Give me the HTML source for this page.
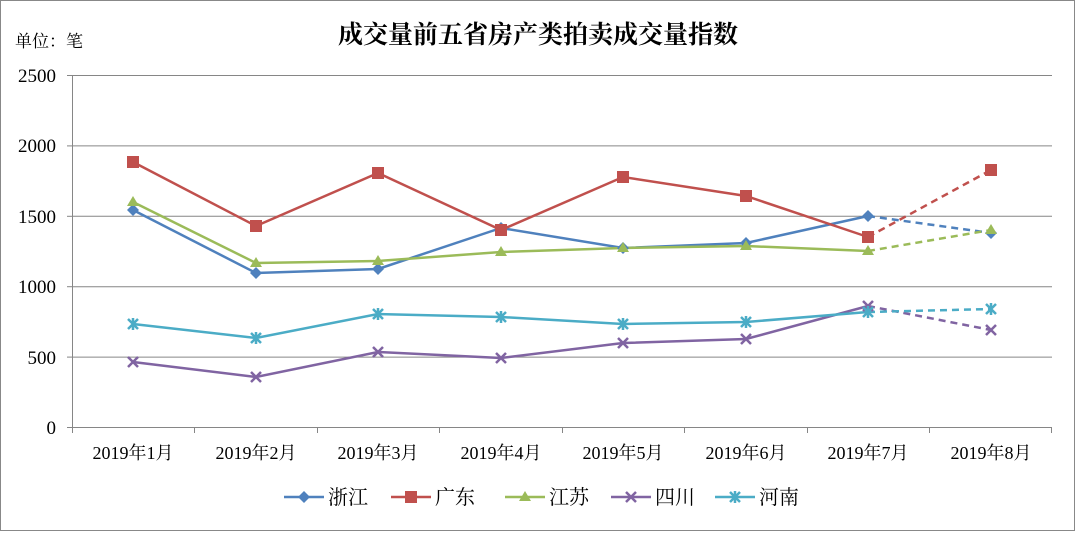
<!DOCTYPE html>
<html><head><meta charset="utf-8"><style>
body{margin:0;background:#fff}
svg text{font-family:"Liberation Serif","Noto Serif CJK SC","Noto Sans CJK SC",serif;fill:#000}
</style></head><body>
<svg width="1075" height="531" viewBox="0 0 1075 531" xmlns="http://www.w3.org/2000/svg">
<rect x="0.5" y="0.5" width="1074" height="530" fill="#fff" stroke="#888"/>
<text x="538" y="43" font-size="25" font-weight="bold" text-anchor="middle">成交量前五省房产类拍卖成交量指数</text>
<text x="15" y="47" font-size="17">单位：笔</text>
<g stroke="#868686" stroke-width="1">
<line x1="72" y1="75.5" x2="1052" y2="75.5"/>
<line x1="72" y1="145.9" x2="1052" y2="145.9"/>
<line x1="72" y1="216.3" x2="1052" y2="216.3"/>
<line x1="72" y1="286.7" x2="1052" y2="286.7"/>
<line x1="72" y1="357.1" x2="1052" y2="357.1"/>
<line x1="72" y1="427.5" x2="1052" y2="427.5"/>
<line x1="72.5" y1="75" x2="72.5" y2="433"/>
<line x1="194.5" y1="427" x2="194.5" y2="433"/><line x1="317.5" y1="427" x2="317.5" y2="433"/>
<line x1="439.5" y1="427" x2="439.5" y2="433"/><line x1="562.5" y1="427" x2="562.5" y2="433"/>
<line x1="684.5" y1="427" x2="684.5" y2="433"/><line x1="807.5" y1="427" x2="807.5" y2="433"/>
<line x1="929.5" y1="427" x2="929.5" y2="433"/><line x1="1051.5" y1="427" x2="1051.5" y2="433"/>
<line x1="67" y1="75.5" x2="72" y2="75.5"/><line x1="67" y1="145.9" x2="72" y2="145.9"/><line x1="67" y1="216.3" x2="72" y2="216.3"/><line x1="67" y1="286.7" x2="72" y2="286.7"/><line x1="67" y1="357.1" x2="72" y2="357.1"/><line x1="67" y1="427.5" x2="72" y2="427.5"/>
</g>
<g font-size="19" text-anchor="end">
<text x="56" y="82">2500</text><text x="56" y="152">2000</text><text x="56" y="223">1500</text><text x="56" y="293">1000</text><text x="56" y="364">500</text><text x="56" y="434">0</text>
</g>
<g font-size="18" text-anchor="middle">
<text x="133" y="459">2019年1月</text><text x="256" y="459">2019年2月</text><text x="378" y="459">2019年3月</text><text x="501" y="459">2019年4月</text><text x="623" y="459">2019年5月</text><text x="746" y="459">2019年6月</text><text x="868" y="459">2019年7月</text><text x="991" y="459">2019年8月</text>
</g>
<g fill="none" stroke-width="2.5">
<polyline stroke="#4F81BD" points="133,210 256,273 378,269 501,228 623,248 746,243 868,216"/>
<line stroke="#4F81BD" stroke-dasharray="7,5" x1="868" y1="216" x2="991" y2="233"/>
<polyline stroke="#C0504D" points="133,162 256,226 378,173 501,230 623,177 746,196 868,237"/>
<line stroke="#C0504D" stroke-dasharray="7,5" x1="868" y1="237" x2="991" y2="170"/>
<polyline stroke="#9BBB59" points="133,202 256,263 378,261 501,252 623,248 746,246 868,251"/>
<line stroke="#9BBB59" stroke-dasharray="7,5" x1="868" y1="251" x2="991" y2="230"/>
<polyline stroke="#8064A2" points="133,362 256,377 378,352 501,358 623,343 746,339 868,306"/>
<line stroke="#8064A2" stroke-dasharray="7,5" x1="868" y1="306" x2="991" y2="330"/>
<polyline stroke="#4BACC6" points="133,324 256,338 378,314 501,317 623,324 746,322 868,312"/>
<line stroke="#4BACC6" stroke-dasharray="7,5" x1="868" y1="312" x2="991" y2="309"/>
</g>
<g fill="#4F81BD">
<path d="M133,204l6,6-6,6-6-6z"/><path d="M256,267l6,6-6,6-6-6z"/><path d="M378,263l6,6-6,6-6-6z"/><path d="M501,222l6,6-6,6-6-6z"/><path d="M623,242l6,6-6,6-6-6z"/><path d="M746,237l6,6-6,6-6-6z"/><path d="M868,210l6,6-6,6-6-6z"/><path d="M991,227l6,6-6,6-6-6z"/>
</g>
<g fill="#C0504D">
<rect x="127" y="156" width="12" height="12"/><rect x="250" y="220" width="12" height="12"/><rect x="372" y="167" width="12" height="12"/><rect x="495" y="224" width="12" height="12"/><rect x="617" y="171" width="12" height="12"/><rect x="740" y="190" width="12" height="12"/><rect x="862" y="231" width="12" height="12"/><rect x="985" y="164" width="12" height="12"/>
</g>
<g fill="#9BBB59">
<path d="M133,196l6,10h-12z"/><path d="M256,257l6,10h-12z"/><path d="M378,255l6,10h-12z"/><path d="M501,246l6,10h-12z"/><path d="M623,242l6,10h-12z"/><path d="M746,240l6,10h-12z"/><path d="M868,245l6,10h-12z"/><path d="M991,224l6,10h-12z"/>
</g>
<g stroke="#8064A2" stroke-width="2.5">
<path d="M128,357l10,10M138,357l-10,10M251,372l10,10M261,372l-10,10M373,347l10,10M383,347l-10,10M496,353l10,10M506,353l-10,10M618,338l10,10M628,338l-10,10M741,334l10,10M751,334l-10,10M863,301l10,10M873,301l-10,10M986,325l10,10M996,325l-10,10"/>
</g>
<g stroke="#4BACC6" stroke-width="2.5">
<path d="M128,319l10,10M138,319l-10,10M133,318v12M251,333l10,10M261,333l-10,10M256,332v12M373,309l10,10M383,309l-10,10M378,308v12M496,312l10,10M506,312l-10,10M501,311v12M618,319l10,10M628,319l-10,10M623,318v12M741,317l10,10M751,317l-10,10M746,316v12M863,307l10,10M873,307l-10,10M868,306v12M986,304l10,10M996,304l-10,10M991,303v12"/>
</g>
<g stroke-width="2.5" fill="none">
<line x1="284" y1="497" x2="324" y2="497" stroke="#4F81BD"/>
<line x1="391" y1="497" x2="431" y2="497" stroke="#C0504D"/>
<line x1="505" y1="497" x2="545" y2="497" stroke="#9BBB59"/>
<line x1="611" y1="497" x2="651" y2="497" stroke="#8064A2"/>
<line x1="715" y1="497" x2="755" y2="497" stroke="#4BACC6"/>
</g>
<path d="M304,491l6,6-6,6-6-6z" fill="#4F81BD"/>
<rect x="405" y="491" width="12" height="12" fill="#C0504D"/>
<path d="M525,491l6,10h-12z" fill="#9BBB59"/>
<path d="M626,492l10,10M636,492l-10,10" stroke="#8064A2" stroke-width="2.5"/>
<path d="M730,492l10,10M740,492l-10,10M735,491v12" stroke="#4BACC6" stroke-width="2.5"/>
<g font-size="20">
<text x="328" y="504">浙江</text><text x="435" y="504">广东</text><text x="549" y="504">江苏</text><text x="655" y="504">四川</text><text x="759" y="504">河南</text>
</g>
</svg>
</body></html>
